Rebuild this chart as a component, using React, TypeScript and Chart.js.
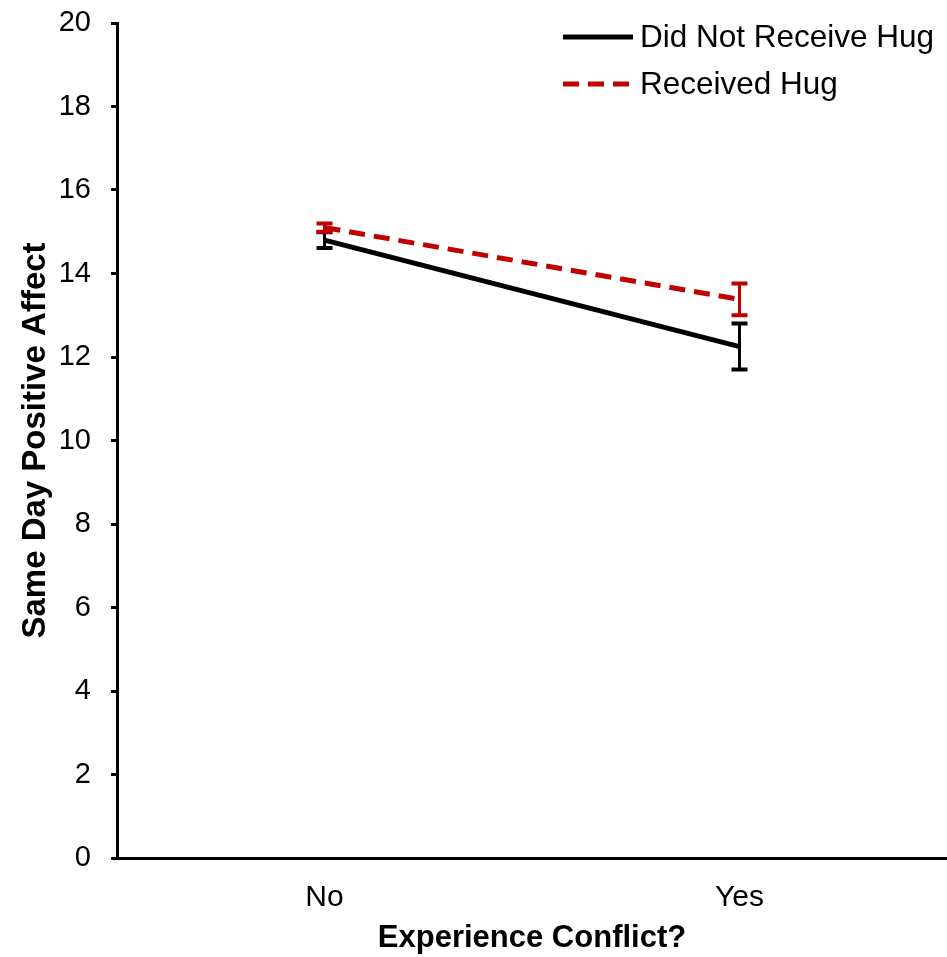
import React, { useEffect, useRef } from "react";
import { Chart, registerables } from "chart.js";

Chart.register(...registerables);

const categories = ["No", "Yes"];
const noHugMeans = [14.8, 12.25];
const noHugErrors = [0.19, 0.55];
const hugMeans = [15.1, 13.38];
const hugErrors = [0.1, 0.38];
const yTicks = [0, 2, 4, 6, 8, 10, 12, 14, 16, 18, 20];
const seriesNames = ["Did Not Receive Hug", "Received Hug"];

const BLACK = "#000000";
const RED = "#C00000";
const FONT = "'Liberation Sans', Arial, sans-serif";

const errorBarPlugin = {
  id: "errorBars",
  afterDatasetsDraw(chart: any) {
    const ctx = chart.ctx;
    const y = chart.scales.y;
    chart.data.datasets.forEach((ds: any, i: number) => {
      const meta = chart.getDatasetMeta(i);
      const errs: number[] = ds.errors || [];
      meta.data.forEach((pt: any, j: number) => {
        const v = ds.data[j];
        const e = errs[j];
        if (e == null) return;
        const x = pt.x;
        const yTop = y.getPixelForValue(v + e);
        const yBot = y.getPixelForValue(v - e);
        ctx.save();
        ctx.strokeStyle = ds.borderColor;
        ctx.lineWidth = 3;
        ctx.setLineDash([]);
        ctx.beginPath();
        ctx.moveTo(x, yTop);
        ctx.lineTo(x, yBot);
        ctx.stroke();
        ctx.lineWidth = 4;
        ctx.beginPath();
        ctx.moveTo(x - 8, yTop);
        ctx.lineTo(x + 8, yTop);
        ctx.moveTo(x - 8, yBot);
        ctx.lineTo(x + 8, yBot);
        ctx.stroke();
        ctx.restore();
      });
    });
  },
};

const legendPlugin = {
  id: "customLegend",
  afterDraw(chart: any) {
    const ctx = chart.ctx;
    const items = chart.data.datasets.map((ds: any) => ({
      label: ds.label,
      color: ds.borderColor,
      dash: ds.borderDash || [],
    }));
    const x0 = 563;
    const x1 = 633;
    const startY = 37;
    const gap = 47;
    ctx.save();
    items.forEach((it: any, i: number) => {
      const yy = startY + i * gap;
      ctx.strokeStyle = it.color;
      ctx.lineWidth = 5;
      ctx.setLineDash(it.dash);
      ctx.beginPath();
      ctx.moveTo(x0, yy);
      ctx.lineTo(x1, yy);
      ctx.stroke();
      ctx.setLineDash([]);
      ctx.fillStyle = "#000";
      ctx.font = `31.5px ${FONT}`;
      ctx.textAlign = "left";
      ctx.textBaseline = "middle";
      ctx.fillText(it.label, 640, yy + 1);
    });
    ctx.restore();
  },
};

export default function App() {
  const ref = useRef<HTMLCanvasElement>(null);
  useEffect(() => {
    if (!ref.current) return;
    const chart = new Chart(ref.current, {
      type: "line",
      data: {
        labels: categories,
        datasets: [
          {
            label: seriesNames[0],
            data: noHugMeans,
            errors: noHugErrors,
            borderColor: BLACK,
            backgroundColor: BLACK,
            borderWidth: 5,
            pointRadius: 0,
            tension: 0,
          } as any,
          {
            label: seriesNames[1],
            data: hugMeans,
            errors: hugErrors,
            borderColor: RED,
            backgroundColor: RED,
            borderWidth: 5,
            borderDash: [16, 9],
            pointRadius: 0,
            tension: 0,
          } as any,
        ],
      },
      options: {
        animation: false,
        responsive: false,
        maintainAspectRatio: false,
        layout: { padding: { top: 23, right: 0, left: 0, bottom: 0 } },
        plugins: {
          legend: { display: false },
          tooltip: { enabled: false },
        },
        scales: {
          x: {
            type: "category",
            offset: true,
            grid: { display: true, drawOnChartArea: false, drawTicks: false, color: "transparent" },
            border: { display: true, color: BLACK, width: 3 },
            ticks: {
              color: "#000",
              font: { family: FONT, size: 30 },
              padding: 22,
              maxRotation: 0,
            },
            title: {
              display: true,
              text: "Experience Conflict?",
              color: "#000",
              font: { family: FONT, size: 31, weight: "bold" },
              padding: { top: 2, bottom: 0 },
            },
            afterFit(scale: any) {
              scale.height = 99;
              scale.paddingLeft = 0;
              scale.paddingRight = 0;
            },
          },
          y: {
            min: 0,
            max: 20,
            afterBuildTicks(scale: any) {
              scale.ticks = yTicks.map((v) => ({ value: v }));
            },
            grid: {
              display: true,
              drawOnChartArea: false,
              drawTicks: true,
              tickLength: 6,
              color: BLACK,
              lineWidth: 3,
            },
            border: { display: true, color: BLACK, width: 3 },
            ticks: {
              color: "#000",
              font: { family: FONT, size: 29 },
              padding: 20,
            },
            title: {
              display: true,
              text: "Same Day Positive Affect",
              color: "#000",
              font: { family: FONT, size: 33, weight: "bold" },
              padding: { top: 16, bottom: 10 },
            },
            afterFit(scale: any) {
              scale.width = 117;
              scale.paddingTop = 0;
              scale.paddingBottom = 0;
            },
          },
        },
      } as any,
      plugins: [errorBarPlugin, legendPlugin],
    });
    return () => chart.destroy();
  }, []);
  return (
    <div style={{ position: "fixed", left: 0, top: 0, width: 947, height: 957, background: "#fff" }}>
      <canvas ref={ref} width={947} height={957} style={{ width: 947, height: 957 }} />
    </div>
  );
}
